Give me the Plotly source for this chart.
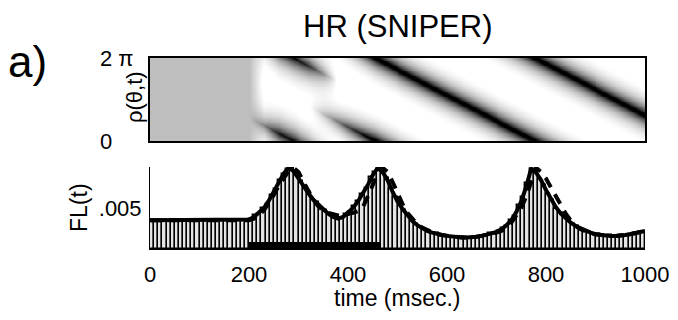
import numpy as np
import plotly.graph_objects as go

# ---------------- data ----------------
# model firing rate FL(t), sampled every 10 ms from 0 to 1000 ms
t_model = list(range(0, 1001, 10))
fl_solid = [0.0035] * 20 + [
    0.0036, 0.0039, 0.0044, 0.0050, 0.0059, 0.0070, 0.0082, 0.0092, 0.0099, 0.0095,  # 200-290
    0.0086, 0.0076, 0.0068, 0.0060, 0.0054, 0.0048, 0.0043, 0.0039, 0.0037, 0.0039,  # 300-390
    0.0044, 0.0050, 0.0058, 0.0067, 0.0078, 0.0090, 0.0099, 0.0094, 0.0084, 0.0070,  # 400-490
    0.0058, 0.0049, 0.0041, 0.0034, 0.0029, 0.0025, 0.0022, 0.0020, 0.0018, 0.0017,  # 500-590
    0.0016, 0.0015, 0.0014, 0.0014, 0.0014, 0.0014, 0.0015, 0.0016, 0.0017, 0.0019,  # 600-690
    0.0021, 0.0024, 0.0029, 0.0035, 0.0045, 0.0058, 0.0076, 0.0098, 0.0093, 0.0084,  # 700-790
    0.0072, 0.0061, 0.0051, 0.0043, 0.0037, 0.0032, 0.0028, 0.0025, 0.0022, 0.0020,  # 800-890
    0.0018, 0.0017, 0.0016, 0.0016, 0.0016, 0.0016, 0.0017, 0.0018, 0.0019, 0.0020,  # 900-990
    0.0022,                                                                          # 1000
]
fl_dashed = [0.0035] * 20 + [
    0.0035, 0.0037, 0.0041, 0.0047, 0.0056, 0.0066, 0.0077, 0.0087, 0.0095, 0.0099,  # 200-290
    0.0094, 0.0082, 0.0070, 0.0060, 0.0052, 0.0047, 0.0044, 0.0042, 0.0041, 0.0041,  # 300-390
    0.0042, 0.0044, 0.0046, 0.0051, 0.0064, 0.0079, 0.0092, 0.0099, 0.0094, 0.0082,  # 400-490
    0.0068, 0.0055, 0.0044, 0.0036, 0.0030, 0.0026, 0.0023, 0.0020, 0.0018, 0.0017,  # 500-590
    0.0016, 0.0015, 0.0014, 0.0014, 0.0014, 0.0014, 0.0015, 0.0016, 0.0017, 0.0018,  # 600-690
    0.0020, 0.0022, 0.0026, 0.0032, 0.0040, 0.0050, 0.0064, 0.0083, 0.0099, 0.0094,  # 700-790
    0.0086, 0.0075, 0.0064, 0.0053, 0.0043, 0.0035, 0.0028, 0.0024, 0.0021, 0.0019,  # 800-890
    0.0018, 0.0017, 0.0016, 0.0016, 0.0016, 0.0016, 0.0017, 0.0018, 0.0019, 0.0020,  # 900-990
    0.0022,                                                                          # 1000
]

# simulated spike-count histogram (120 bins over 1000 ms)
hist_counts = [
    0.0035, 0.0034, 0.0035, 0.0035, 0.0034, 0.0035, 0.0035, 0.0035, 0.0034, 0.0035,
    0.0035, 0.0035, 0.0035, 0.0034, 0.0035, 0.0035, 0.0035, 0.0035, 0.0034, 0.0035,
    0.0035, 0.0035, 0.0034, 0.0035, 0.0036, 0.0041, 0.0043, 0.0050, 0.0055, 0.0066,
    0.0073, 0.0084, 0.0091, 0.0098, 0.0099, 0.0091, 0.0083, 0.0074, 0.0069, 0.0060,
    0.0057, 0.0050, 0.0047, 0.0041, 0.0039, 0.0038, 0.0037, 0.0043, 0.0045, 0.0053,
    0.0058, 0.0067, 0.0074, 0.0088, 0.0094, 0.0099, 0.0092, 0.0086, 0.0073, 0.0064,
    0.0053, 0.0047, 0.0041, 0.0034, 0.0031, 0.0026, 0.0024, 0.0021, 0.0020, 0.0019,
    0.0017, 0.0016, 0.0015, 0.0015, 0.0014, 0.0015, 0.0013, 0.0014, 0.0015, 0.0014,
    0.0016, 0.0017, 0.0019, 0.0020, 0.0022, 0.0026, 0.0028, 0.0035, 0.0040, 0.0054,
    0.0064, 0.0081, 0.0097, 0.0096, 0.0085, 0.0078, 0.0067, 0.0060, 0.0049, 0.0044,
    0.0038, 0.0035, 0.0030, 0.0028, 0.0024, 0.0022, 0.0021, 0.0018, 0.0018, 0.0017,
    0.0016, 0.0017, 0.0015, 0.0016, 0.0017, 0.0016, 0.0018, 0.0019, 0.0020, 0.0021,
]
t_end = 1000
stim_on, stim_off = 200, 465

# dark troughs of rho(theta, t): time (ms), angular position (fraction of 2*pi,
# unwrapped), trough depth and half-width
trough1_t = [200, 230, 260, 290, 320, 350, 380]
trough1_pos = [0.28, 0.19, 0.09, 0.0, -0.09, -0.19, -0.28]
trough1_depth = [0.0, 0.55, 1.0, 1.05, 0.9, 0.5, 0.0]
trough1_width = 0.13
trough2_t = [320, 360, 400, 455, 778, 1000]
trough2_pos = [0.42, 0.30, 0.17, 0.0, -1.0, -1.69]
trough2_depth = [0.0, 0.4, 0.8, 1.25, 1.25, 1.25]
trough2_width = 0.11
rho_uniform = 0.745   # grey level of the flat (pre-stimulus) density
rho_peak = 1.06

# ---------------- density image ----------------
tt = np.linspace(0, t_end, 501)
th = np.linspace(0, 1, 100)
T, TH = np.meshgrid(tt, th)
ramp = np.clip((tt - stim_on) / 30.0, 0, 1)
base = rho_uniform + (rho_peak - rho_uniform) * ramp
rho = np.tile(base, (len(th), 1))
for ts, ps, ds, w in [(trough1_t, trough1_pos, trough1_depth, trough1_width),
                      (trough2_t, trough2_pos, trough2_depth, trough2_width)]:
    pos = np.interp(tt, ts, ps)
    dep = np.interp(tt, ts, ds, left=0, right=ds[-1])
    d = TH - pos[None, :]
    d = d - np.round(d)
    rho -= dep[None, :] * np.exp(-np.abs(d) / w)
rho[:, tt < stim_on] = rho_uniform
rho = np.clip(rho, 0, 1)

# ---------------- figure ----------------
W, H = 678, 320
FONT = "Liberation Sans, Arial, Helvetica, sans-serif"

def px_x(p):
    return p / W

def px_y(p):
    return 1 - p / H

fig = go.Figure()

fig.add_trace(go.Heatmap(
    x=tt, y=th * 2 * np.pi, z=rho, zmin=0, zmax=1,
    colorscale=[[0, "black"], [1, "white"]], showscale=False,
    zsmooth="best", xaxis="x", yaxis="y", hoverinfo="skip",
))

bin_w = t_end / len(hist_counts)
fig.add_trace(go.Bar(
    x=(np.arange(len(hist_counts)) + 0.5) * bin_w, y=hist_counts, width=bin_w,
    marker=dict(color="#e4e4e4", line=dict(color="black", width=1.4)),
    xaxis="x2", yaxis="y2", showlegend=False,
))
fig.add_trace(go.Scatter(
    x=t_model, y=fl_dashed, mode="lines",
    line=dict(color="black", width=4, dash="11px,8px"),
    xaxis="x2", yaxis="y2", showlegend=False,
))
fig.add_trace(go.Scatter(
    x=t_model, y=fl_solid, mode="lines",
    line=dict(color="black", width=4),
    xaxis="x2", yaxis="y2", showlegend=False,
))

# stimulus interval
fig.add_shape(type="rect", xref="x2", yref="y2 domain",
              x0=stim_on, x1=stim_off, y0=0, y1=0.085,
              fillcolor="black", line=dict(width=0))

xdom = [px_x(150), px_x(645)]
fig.update_layout(
    width=W, height=H, autosize=False,
    margin=dict(l=0, r=0, t=0, b=0, autoexpand=False),
    paper_bgcolor="white", plot_bgcolor="white",
    font=dict(family=FONT, size=22, color="black"),
    showlegend=False, bargap=0,
    xaxis=dict(domain=xdom, anchor="y", range=[0, t_end], showticklabels=False,
               ticks="", showgrid=False, zeroline=False, automargin=False,
               showline=True, mirror=True, linecolor="black", linewidth=1.5),
    yaxis=dict(domain=[px_y(141), px_y(58)], anchor="x", range=[0, 2 * np.pi],
               showticklabels=False, ticks="", showgrid=False, zeroline=False,
               automargin=False,
               showline=True, mirror=True, linecolor="black", linewidth=1.5),
    xaxis2=dict(domain=xdom, anchor="y2", range=[0, t_end],
                tickvals=[0, 200, 400, 600, 800, 1000], ticks="",
                showgrid=False, zeroline=False, showline=True, automargin=False,
                linecolor="black", linewidth=1, ticklabelstandoff=6),
    yaxis2=dict(domain=[px_y(249), px_y(167)], anchor="x2", range=[0, 0.01],
                tickvals=[0.005], ticktext=[".005"], ticks="",
                showgrid=False, zeroline=False, showline=True, automargin=False,
                linecolor="black", linewidth=1, ticklabelstandoff=3),
)

ann = [
    dict(text="HR (SNIPER)", x=px_x(397), y=px_y(27), font=dict(size=31)),
    dict(text="a)", x=px_x(6), y=px_y(62), xanchor="left", font=dict(size=44)),
    dict(text="time (msec.)", x=px_x(398), y=px_y(298), font=dict(size=23)),
    dict(text="ρ(θ,t)", x=px_x(134), y=px_y(97), textangle=-90, font=dict(size=22)),
    dict(text="FL(t)", x=px_x(79), y=px_y(208), textangle=-90, font=dict(size=23)),
]
for a in ann:
    a.update(xref="paper", yref="paper", showarrow=False)
    a.setdefault("xanchor", "center")
    a.setdefault("yanchor", "middle")
# angle tick labels of the density panel
for val, txt in [(0, "0"), (2 * np.pi, "2 π")]:
    ann.append(dict(text=txt, xref="paper", yref="y", x=px_x(98), y=val,
                    xanchor="left", yanchor="middle", showarrow=False,
                    font=dict(size=22)))
fig.update_layout(annotations=ann)

fig.write_html("out.html")
